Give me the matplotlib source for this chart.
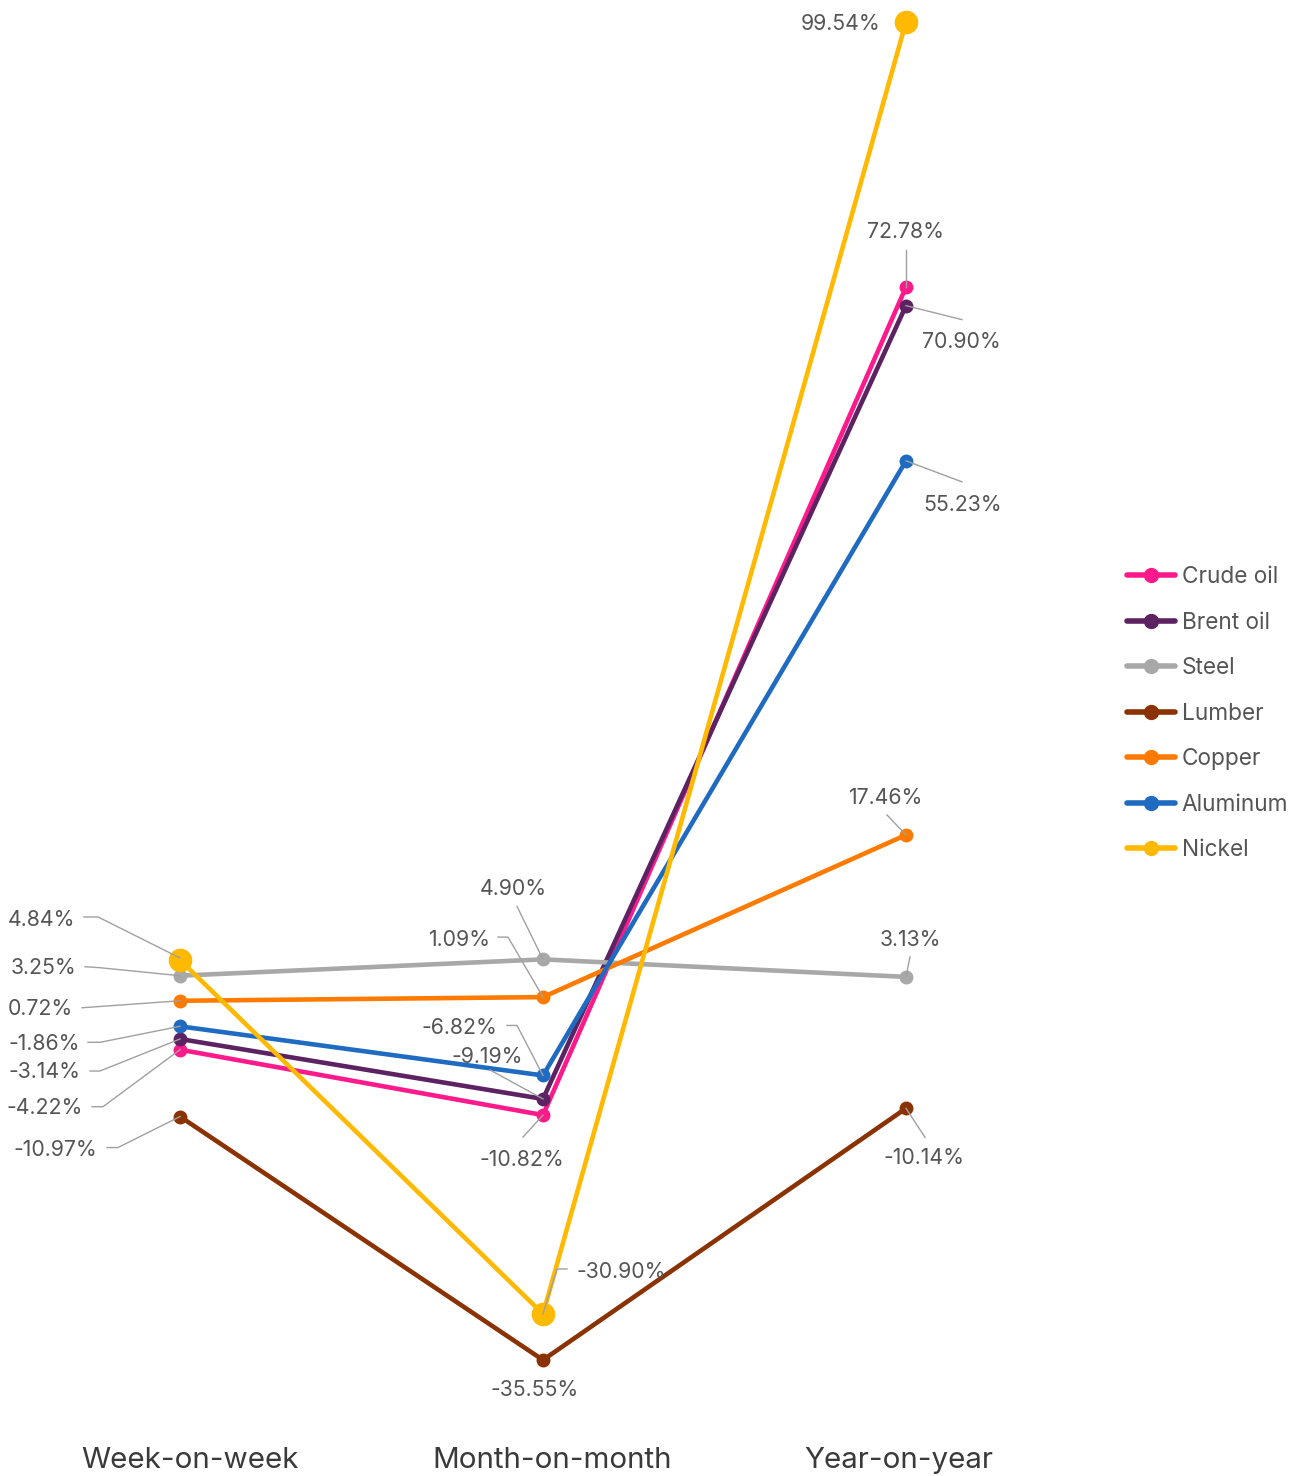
import matplotlib
matplotlib.use("Agg")
import matplotlib.pyplot as plt
from matplotlib.lines import Line2D
from matplotlib.transforms import IdentityTransform

plt.rcParams['font.family'] = ['Inter', 'DejaVu Sans']

# ---------------- data ----------------
periods = ["Week-on-week", "Month-on-month", "Year-on-year"]
series_names = ["Crude oil", "Brent oil", "Steel", "Lumber", "Copper", "Aluminum", "Nickel"]
crude_oil = [-4.22, -10.82, 72.78]
brent_oil = [-3.14, -9.19, 70.90]
steel = [3.25, 4.90, 3.13]
lumber = [-10.97, -35.55, -10.14]
copper = [0.72, 1.09, 17.46]
aluminum = [-1.86, -6.82, 55.23]
nickel = [4.84, -30.90, 99.54]
values = [crude_oil, brent_oil, steel, lumber, copper, aluminum, nickel]

# ---------------- styles ----------------
colors = ["#FF1A8C", "#5C2262", "#A8A8A8", "#8B3203", "#FF7A00", "#1F6BC1", "#FFB900"]
marker_sizes = [9, 9, 9, 9, 9, 9, 16]

W, H = 1302, 1476
DPI = 100
fig = plt.figure(figsize=(W / DPI, H / DPI), dpi=DPI)
ax = fig.add_axes([0, 0, 1, 1])
ax.set_axis_off()

# pixel mapping: x 0 -> 180px, x 2 -> 906px ; value v -> 1007.9 - 9.905 v (from top)
px_per_x = 363.0
px_per_y = 9.905
zero_y = 1007.9
ax.set_xlim(-180 / px_per_x, (W - 180) / px_per_x)
ax.set_ylim((zero_y - H) / px_per_y, zero_y / px_per_y)

xs = list(range(len(periods)))
for name, vals, c, ms in zip(series_names, values, colors, marker_sizes):
    ax.plot(xs, vals, color=c, lw=3.3, marker="o", ms=ms, label=name,
            solid_capstyle="round", solid_joinstyle="round")

# ---------------- labels with leader lines ----------------
# (series index, period index): (text dx, text dy, ha, leader points) in pixels, y downwards
label_layout = {
    (6, 0): (-105, -40, "right", [(-96, -43), (-82, -43), (0, -2)]),
    (2, 0): (-104, -8, "right", [(-95, -9), (-80, -8), (0, 0)]),
    (4, 0): (-107, 8, "right", [(-98, 7), (-84, 6), (0, 0)]),
    (5, 0): (-100, 18, "right", [(-92, 16), (-80, 16), (0, 0)]),
    (1, 0): (-100, 33, "right", [(-90, 32), (-80, 32), (0, 0)]),
    (0, 0): (-97, 58, "right", [(-88, 57), (-77, 57), (0, 0)]),
    (3, 0): (-83, 33, "right", [(-73, 31), (-62, 31), (0, 0)]),
    (2, 1): (-30, -70, "center", [(-26, -53), (0, 0)]),
    (4, 1): (-53, -57, "right", [(-45, -60), (-35, -60), (0, 0)]),
    (5, 1): (-46, -47, "right", [(-36, -50), (-26, -50), (0, 0)]),
    (1, 1): (-20, -42, "right", [(-53, -29), (0, 0)]),
    (0, 1): (-21, 45, "center", [(-20, 22), (0, 0)]),
    (6, 1): (33, -42, "left", [(24, -45), (14, -45), (0, 0)]),
    (3, 1): (-8, 30, "center", None),
    (6, 2): (-26, 2, "right", None),
    (0, 2): (0, -55, "center", [(0, -37), (0, 0)]),
    (1, 2): (16, 36, "left", [(56, 14), (0, 0)]),
    (5, 2): (17, 44, "left", [(56, 21), (0, 0)]),
    (4, 2): (-21, -37, "center", [(-19, -20), (0, 0)]),
    (2, 2): (4, -37, "center", [(4, -20), (0, 0)]),
    (3, 2): (18, 50, "center", [(19, 29), (0, 0)]),
}

fig.canvas.draw()
label_color = "#555555"
leader_color = "#A0A0A0"
for (si, pi), (dx, dy, ha, leader) in label_layout.items():
    v = values[si][pi]
    px, py = ax.transData.transform((xs[pi], v))
    ax.text(px + dx, py - dy, f"{v:.2f}%", transform=IdentityTransform(),
            ha=ha, va="center", fontsize=15.3, color=label_color, zorder=20)
    if leader:
        lx = [px + a for a, b in leader]
        ly = [py - b for a, b in leader]
        fig.add_artist(Line2D(lx, ly, transform=IdentityTransform(),
                              color=leader_color, lw=1.0, zorder=25))

# category labels
for i, p in enumerate(periods):
    px, _ = ax.transData.transform((xs[i], 0))
    ax.text(px + [10, 9, -7][i], H - 1461, p, transform=IdentityTransform(),
            ha="center", va="center", fontsize=21.3, color="#3A3A3A")

# legend
leg = ax.legend(loc="upper left", bbox_to_anchor=(1127 / W, 1 - 566 / H),
                bbox_transform=fig.transFigure, frameon=False,
                fontsize=16.3, handlelength=2.1, handletextpad=0.32,
                labelspacing=1.04, borderaxespad=0, borderpad=0,
                markerscale=1.0)
for t in leg.get_texts():
    t.set_color("#555555")
for h in leg.legend_handles:
    h.set_markersize(10)
    h.set_linewidth(4)

fig.savefig("out.png", dpi=DPI)
